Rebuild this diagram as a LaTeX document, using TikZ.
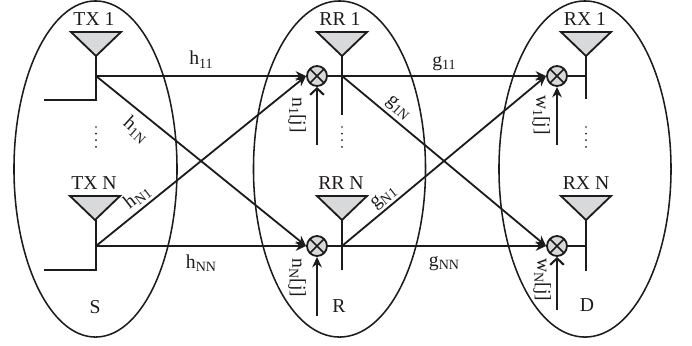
\documentclass[tikz,border=0pt]{standalone}
\usepackage{fontspec}
\setmainfont{Liberation Serif}
\usetikzlibrary{arrows.meta,positioning,calc,shapes.geometric,backgrounds}
\definecolor{antGray}{RGB}{215,217,218}
\definecolor{inkBlack}{RGB}{30,27,28}
\tikzset{
  group/.style={ellipse, draw=inkBlack, line width=1.1pt, minimum height=8.4cm, inner sep=0pt},
  antenna/.style={draw=inkBlack, fill=antGray, line width=1.3pt},
  mult/.style={circle, draw=inkBlack, fill=antGray, line width=1.3pt, minimum size=0.5cm, inner sep=0pt,
    path picture={\draw[inkBlack, line width=1.1pt] (path picture bounding box.north west) -- (path picture bounding box.south east)
      (path picture bounding box.north east) -- (path picture bounding box.south west);}},
  wire/.style={draw=inkBlack, line width=1.3pt},
  sig/.style={wire, -{Stealth[length=2.6mm, width=2.4mm]}},
  noisearrow/.style={sig, line width=1.5pt},
  barbarrow/.style={wire, line width=1.5pt, -{Straight Barb[length=1.6mm, width=3.4mm]}},
  lab/.style={inner sep=0pt, text=inkBlack, font=\fontsize{14}{16}\selectfont},
  noiselab/.style={lab, rotate=-90},
  dotline/.style={inkBlack, line width=1.4pt, line cap=round, dash pattern=on 0pt off 4.7pt}
}
% triangle above its apex
\newcommand{\antennaAt}[3]{
  \coordinate (#1) at (#2,#3);
  \filldraw[antenna] (#2-25,#3-24) -- (#2+25,#3-24) -- (#2,#3) -- cycle;
}
\newcommand{\subs}[2]{#1\raisebox{-2.2pt}{\fontsize{10}{10}\selectfont #2}}
\begin{document}
\begin{tikzpicture}[x=0.025cm, y=-0.025cm]
\useasboundingbox (0,0) rectangle (692,345);
% the three terminals
\node[group, minimum width=4.075cm] (S) at (95.5,169) {};
\node[group, minimum width=4.3cm] (R) at (339.5,169) {};
\node[group, minimum width=4.3cm] (D) at (585,169) {};
\node[lab] (Slab) at (95,307) {S};
\node[lab] (Rlab) at (339,306) {R};
\node[lab] (Dlab) at (587,305) {D};
% antennas
\antennaAt{tx1}{96}{56}
\antennaAt{txN}{95}{220}
\antennaAt{rr1}{342}{56}
\antennaAt{rrN}{342}{220}
\antennaAt{rx1}{586}{56}
\antennaAt{rxN}{586}{220}
\node[lab] (tx1lab) at (94,19) {TX 1};
\node[lab] (txNlab) at (94,183) {TX N};
\node[lab] (rr1lab) at (340,19) {RR 1};
\node[lab] (rrNlab) at (341,183) {RR N};
\node[lab] (rx1lab) at (585,19) {RX 1};
\node[lab] (rxNlab) at (586,183) {RX N};
% junctions and wire ends
\coordinate (tx1j) at (96,76);
\coordinate (txNj) at (96,246);
\coordinate (tx1e) at (44,100);
\coordinate (txNe) at (44,270);
\coordinate (rr1j) at (342,76);
\coordinate (rrNj) at (342,246);
\coordinate (rr1e) at (342,115);
\coordinate (rrNe) at (342,270);
\coordinate (rx1j) at (586,76);
\coordinate (rxNj) at (586,246);
\coordinate (rx1e) at (586,99);
\coordinate (rxNe) at (586,271);
% mixers
\node[mult] (m11) at (317,76) {};
\node[mult] (m1N) at (317,246) {};
\node[mult] (m21) at (557,76) {};
\node[mult] (m2N) at (557,246) {};
\coordinate (n1) at (317,145);
\coordinate (nN) at (317,316);
\coordinate (w1) at (557,145);
\coordinate (wN) at (557,310);
% feeds
\draw[wire] (tx1) -- (tx1j) |- (tx1e);
\draw[wire] (txNj |- txN) -- (txNj) |- (txNe);
\draw[wire] (rr1) -- (rr1e);
\draw[wire] (rrN) -- (rrNe);
\draw[wire] (rx1) -- (rx1e);
\draw[wire] (rxN) -- (rxNe);
\draw[wire] (m11) -- (rr1j);
\draw[wire] (m1N) -- (rrNj);
\draw[wire] (m21) -- (rx1j);
\draw[wire] (m2N) -- (rxNj);
% first hop
\draw[sig] (tx1j) -- node[lab, above=5pt] (h11) {\subs{h}{11}} (m11.west);
\draw[sig] (tx1j) -- (m1N.west);
\draw[sig] (txNj) -- (m11.west);
\draw[sig] (txNj) -- node[lab, below=5.5pt] (hNN) {\subs{h}{NN}} (m1N.west);
\node[lab, rotate=-42] (h1N) at (136,130) {\subs{h}{1N}};
\node[lab, rotate=38] (hN1) at (137,197) {\subs{h}{N1}};
% second hop
\draw[sig] (rr1j) -- node[lab, above=3pt] (g11) {\subs{g}{11}} (m21.west);
\draw[sig] (rr1j) -- (m2N.west);
\draw[sig] (rrNj) -- (m21.west);
\draw[sig] (rrNj) -- node[lab, below=7pt] (gNN) {\subs{g}{NN}} (m2N.west);
\node[lab, rotate=-42] (g1N) at (398,108) {\subs{g}{1N}};
\node[lab, rotate=38] (gN1) at (384,198) {\subs{g}{N1}};
% noise inputs
\draw[barbarrow] (n1) -- (m11.south);
\draw[noisearrow] (nN) -- (m1N.south);
\draw[noisearrow] (w1) -- (m21.south);
\draw[barbarrow] (wN) -- (m2N.south);
\node[noiselab] (n1lab) at (297,115) {\subs{n}{1}[j]};
\node[noiselab] (nNlab) at (297,278) {\subs{n}{N}[j]};
\node[noiselab] (w1lab) at (541,115) {\subs{w}{1}[j]};
\node[noiselab] (wNlab) at (542,280) {\subs{w}{N}[j]};
% dots between the antennas
\draw[dotline] (96,127) -- (96,148);
\draw[dotline] (342,127) -- (342,148);
\draw[dotline] (586,127) -- (586,148);
\end{tikzpicture}
\end{document}
